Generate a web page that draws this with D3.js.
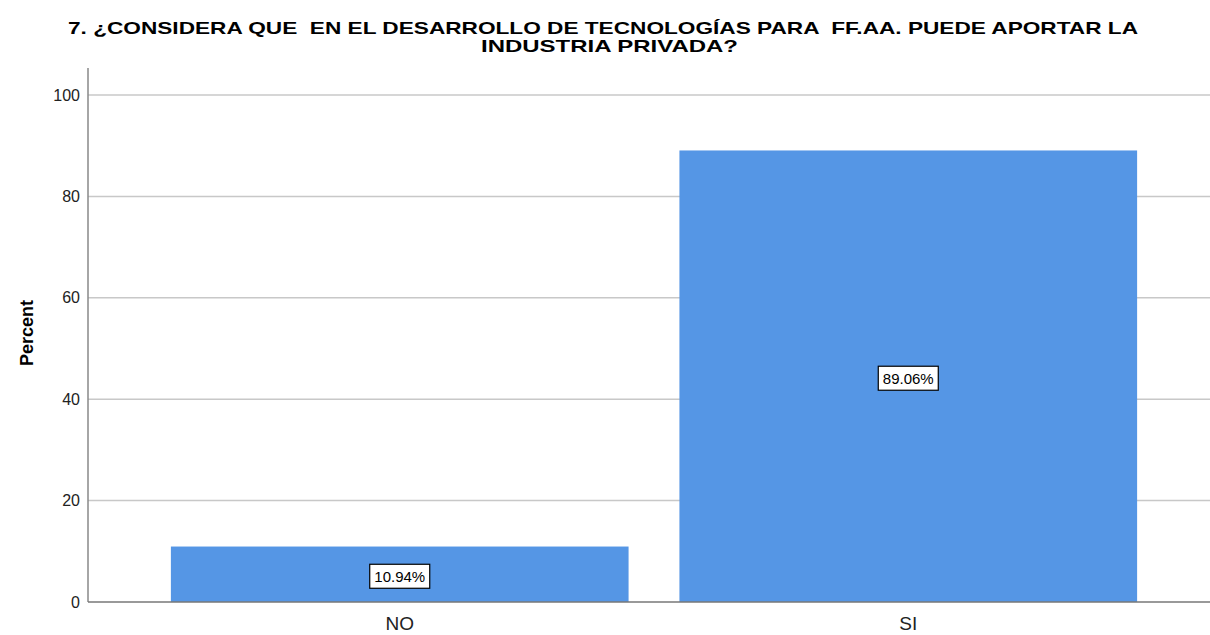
<!DOCTYPE html>
<html lang="es">
<head>
<meta charset="utf-8">
<title>Percent chart</title>
<script src="https://d3js.org/d3.v7.min.js"></script>
<style>
    body { margin: 0; background: #fff; }
    text { font-family: "Liberation Sans", Arial, sans-serif; fill: #000; }
</style>
</head>
<body>
<svg id="chart" width="1210" height="635"></svg>
<script>
    // data
    var categories = ["NO", "SI"];
    var percents = [10.94, 89.06];
    var yTicks = [0, 20, 40, 60, 80, 100];
    var titleLines = ["7. ¿CONSIDERA QUE  EN EL DESARROLLO DE TECNOLOGÍAS PARA  FF.AA. PUEDE APORTAR LA",
        "INDUSTRIA PRIVADA?"];
    var titleWidths = [1070, 257];

    var svg = d3.select("#chart");

    var plotLeft = 88, plotRight = 1220, plotTop = 68, plotBottom = 602;

    var x = d3.scaleBand().domain(categories).range([plotLeft, plotRight])
        .paddingInner(0.1).paddingOuter(0.163);
    var y = d3.scaleLinear().domain([0, 100]).range([plotBottom, 95]);

    // gridlines
    svg.append("g")
        .selectAll("line")
        .data(yTicks.filter(d => d > 0))
        .enter()
        .append("line")
        .attr("x1", plotLeft).attr("x2", 1210)
        .attr("y1", d => y(d)).attr("y2", d => y(d))
        .style("stroke", "#c8c8c8")
        .style("stroke-width", 1.5);

    // bars
    svg.append("g")
        .selectAll("rect")
        .data(categories)
        .enter()
        .append("rect")
        .attr("x", d => x(d))
        .attr("width", x.bandwidth())
        .attr("y", (d, i) => y(percents[i]))
        .attr("height", (d, i) => y(0) - y(percents[i]))
        .style("fill", "#5596e5");

    // value labels with boxes
    var lab = svg.append("g")
        .selectAll("g")
        .data(categories)
        .enter()
        .append("g")
        .attr("transform", (d, i) => "translate(" + (x(d) + x.bandwidth() / 2) + "," + ((y(0) + y(percents[i])) / 2 + 2) + ")");
    lab.append("rect")
        .attr("x", -30).attr("y", -12)
        .attr("width", 60).attr("height", 24)
        .style("fill", "#fff")
        .style("stroke", "#000")
        .style("stroke-width", 1.2);
    lab.append("text")
        .attr("text-anchor", "middle")
        .attr("dy", "0.36em")
        .style("font-size", "15px")
        .text((d, i) => percents[i].toFixed(2) + "%");

    // y axis
    var yAxis = svg.append("g")
        .attr("transform", "translate(" + plotLeft + ",0)")
        .call(d3.axisLeft(y).tickValues(yTicks).tickSize(0).tickPadding(8));
    yAxis.select(".domain").remove();
    yAxis.selectAll("text").style("font-size", "16px").style("fill", "#222");
    svg.append("line")
        .attr("x1", plotLeft).attr("x2", plotLeft)
        .attr("y1", plotTop).attr("y2", plotBottom)
        .style("stroke", "#888").style("stroke-width", 1.5);

    // x axis
    var xAxis = svg.append("g")
        .attr("transform", "translate(0," + plotBottom + ")")
        .call(d3.axisBottom(x).tickSize(0).tickPadding(15));
    xAxis.select(".domain").remove();
    xAxis.selectAll("text").style("font-size", "19px").style("fill", "#222");
    svg.append("line")
        .attr("x1", plotLeft).attr("x2", 1210)
        .attr("y1", plotBottom).attr("y2", plotBottom)
        .style("stroke", "#777").style("stroke-width", 1.5);

    // y title
    svg.append("text")
        .attr("transform", "translate(33,333) rotate(-90)")
        .attr("text-anchor", "middle")
        .style("font-size", "18px")
        .style("font-weight", "bold")
        .text("Percent");

    // chart title
    svg.append("g")
        .selectAll("text")
        .data(titleLines)
        .enter()
        .append("text")
        .attr("x", (d, i) => i === 0 ? 68 : 481)
        .attr("y", (d, i) => 34 + i * 18)
        .attr("textLength", (d, i) => titleWidths[i])
        .attr("lengthAdjust", "spacingAndGlyphs")
        .style("font-size", "17px")
        .style("font-weight", "bold")
        .style("white-space", "pre")
        .text(d => d);
</script>
</body>
</html>
